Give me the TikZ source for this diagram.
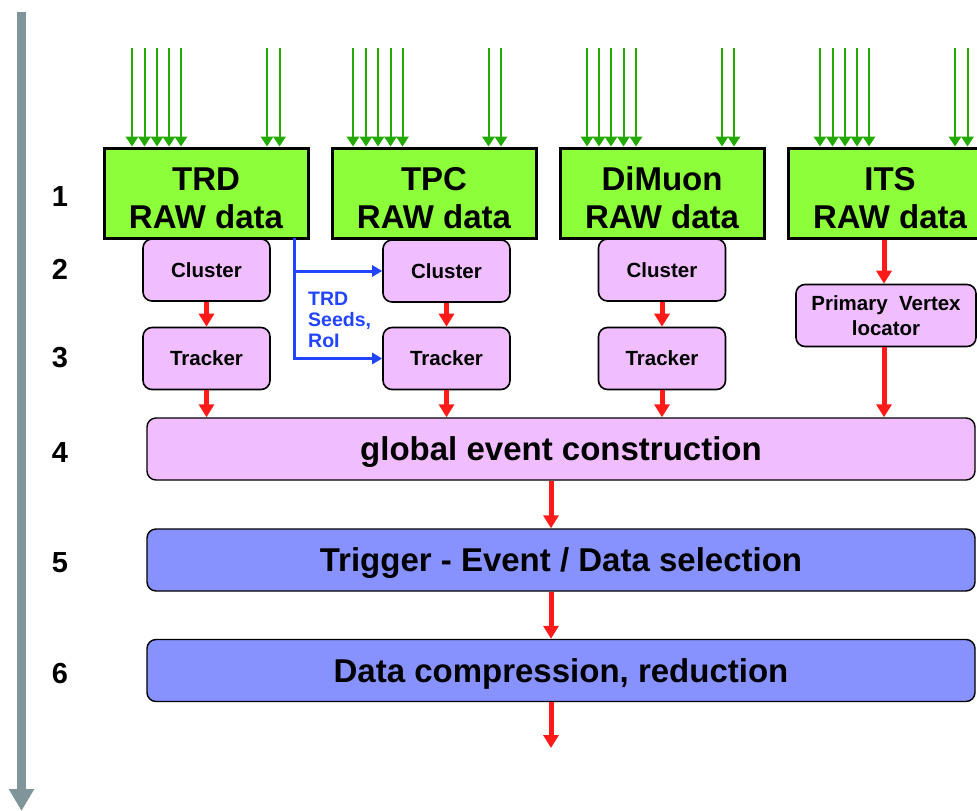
\documentclass[tikz,border=0pt]{standalone}
\usepackage{fontspec}
\setmainfont{Liberation Sans}
\usetikzlibrary{arrows.meta}

\definecolor{rawgreen}{HTML}{8CFF3A}
\definecolor{procpink}{HTML}{F0BEFF}
\definecolor{selblue}{HTML}{8892FF}
\definecolor{feedgreen}{HTML}{22AA00}
\definecolor{flowred}{HTML}{FF1A1A}
\definecolor{seedblue}{HTML}{2244FF}
\definecolor{axisgray}{HTML}{7F959A}

\newcommand{\rawtext}[1]{\raisebox{-15.5pt}[0pt][0pt]{\begin{tabular}{@{}c@{}}#1\\RAW data\end{tabular}}}

\begin{document}
\begin{tikzpicture}[x=1pt, y=-1pt,
    rawbox/.style={draw, line width=3pt, fill=rawgreen, minimum width=204pt, minimum height=90pt,
        inner sep=0pt, font=\fontsize{33}{38}\selectfont\bfseries},
    procbox/.style={draw, line width=1.6pt, fill=procpink, rounded corners=9pt, minimum height=62pt,
        inner sep=0pt, align=center, font=\fontsize{20.5}{25}\selectfont\bfseries},
    onerow/.style={text height=14.7pt, text depth=0pt},
    widebox/.style={draw, line width=1.4pt, rounded corners=9pt, minimum width=828pt, minimum height=62pt,
        inner sep=0pt, text height=23.6pt, text depth=0pt, font=\fontsize{33}{38}\selectfont\bfseries},
    stage/.style={inner sep=0pt, font=\fontsize{29}{34}\selectfont\bfseries},
    feed/.style={draw=feedgreen, line width=2pt, -{Triangle[length=10pt,width=12.5pt]}},
    flow/.style={draw=flowred, line width=5pt, -{Triangle[length=13pt,width=15pt]}},
    seed/.style={draw=seedblue, line width=3pt, -{Triangle[length=10pt,width=11pt]}}]
    \useasboundingbox (0,0) rectangle (977,811);
    \clip (0,0) rectangle (977,811);

    % time axis
    \coordinate (axtop) at (21.5,12);
    \coordinate (axbot) at (21.5,811);
    \draw[axisgray, line width=9pt, -{Triangle[length=22pt,width=24pt]}] (axtop) -- (axbot);

    % stage numbers
    \node[stage] (n1) at (60,197) {1};
    \node[stage] (n2) at (60,269) {2};
    \node[stage] (n3) at (60,358) {3};
    \node[stage] (n4) at (60,453) {4};
    \node[stage] (n5) at (60,563) {5};
    \node[stage] (n6) at (60,674) {6};

    % processing boxes
    \node[procbox, onerow, minimum width=127pt] (trdclu) at (206.5,270) {Cluster};
    \node[procbox, onerow, minimum width=127pt] (trdtrk) at (206.5,358.5) {Tracker};
    \node[procbox, onerow, minimum width=127pt] (tpcclu) at (446.5,271) {Cluster};
    \node[procbox, onerow, minimum width=127pt] (tpctrk) at (446.5,358.5) {Tracker};
    \node[procbox, onerow, minimum width=127pt] (muclu) at (662,270) {Cluster};
    \node[procbox, onerow, minimum width=127pt] (mutrk) at (662,358.5) {Tracker};
    \node[procbox, minimum width=180pt] (vtx) at (886,315.5) {Primary\ \ Vertex\\locator};

    % raw data
    \node[rawbox] (trd) at (206,193) {\rawtext{TRD}};
    \node[rawbox] (tpc) at (434,193) {\rawtext{TPC}};
    \node[rawbox] (mu) at (662,193) {\rawtext{DiMuon}};
    \node[rawbox] (its) at (890,193) {\rawtext{ITS}};

    % wide stages
    \node[widebox, fill=procpink] (glob) at (561,449) {global event construction};
    \node[widebox, fill=selblue] (trig) at (561,560) {Trigger - Event / Data selection};
    \node[widebox, fill=selblue] (comp) at (561,670.5) {Data compression, reduction};

    % detector inputs
    \foreach \x in {132,144.5,157,169,181,267,279.5}
        \draw[feed] (\x,48) coordinate (src) -- (src |- trd.north);
    \foreach \x in {353,366,378,390.5,402.5,488.5,501}
        \draw[feed] (\x,48) coordinate (src) -- (src |- tpc.north);
    \foreach \x in {587,599,611,623.5,636,722,734}
        \draw[feed] (\x,48) coordinate (src) -- (src |- mu.north);
    \foreach \x in {820,832.5,845,857,869,955,967.5}
        \draw[feed] (\x,48) coordinate (src) -- (src |- its.north);

    % data flow
    \draw[flow] (trdclu) -- (trdtrk);
    \draw[flow] (tpcclu) -- (tpctrk);
    \draw[flow] (muclu) -- (mutrk);
    \draw[flow] ([xshift=-2pt]its.south -| vtx) -- ([xshift=-2pt]vtx.north);
    \draw[flow] (trdtrk) -- (trdtrk |- glob.north);
    \draw[flow] (tpctrk) -- (tpctrk |- glob.north);
    \draw[flow] (mutrk) -- (mutrk |- glob.north);
    \draw[flow] ([xshift=-2pt]vtx.south) -- ([xshift=-2pt]vtx |- glob.north);
    \draw[flow] ([xshift=-10pt]glob.south) -- ([xshift=-10pt]trig.north);
    \draw[flow] ([xshift=-10pt]trig.south) -- ([xshift=-10pt]comp.north);
    \coordinate (out) at (551,748);
    \draw[flow] (out |- comp.south) -- (out);

    % TRD seeds
    \coordinate (seedsrc) at (294,238);
    \draw[seed] (seedsrc) |- (tpcclu.west);
    \draw[seed] (seedsrc) |- (tpctrk.west);
    \node[anchor=north west, inner sep=0pt, align=left, text=seedblue,
        font=\fontsize{19.5}{21}\selectfont\bfseries] (seedlbl) at (308,292) {TRD\\Seeds,\\RoI};
\end{tikzpicture}
\end{document}
